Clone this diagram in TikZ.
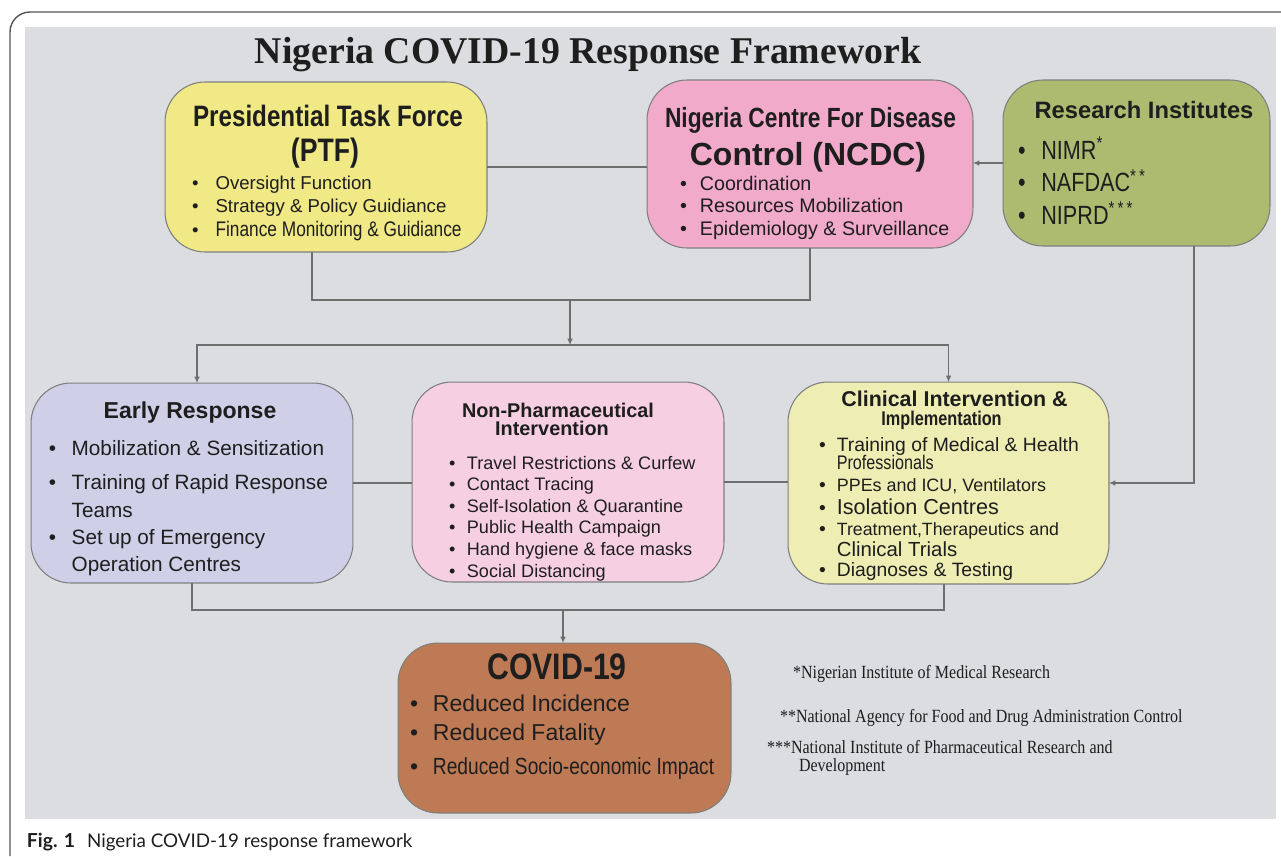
\documentclass[tikz,border=0pt]{standalone}
\usepackage{fontspec}
\setmainfont{Liberation Sans}
\newfontfamily\narrowfont[FakeStretch=0.82]{Liberation Sans}
\newfontfamily\titlefont{Liberation Serif}
\newfontfamily\timesfont[FakeStretch=0.86]{Liberation Serif}
\newfontfamily\capfont{Lato}
\usetikzlibrary{positioning,calc,arrows.meta}

\definecolor{panelgray}{HTML}{DCDDE0}
\definecolor{frameline}{HTML}{555555}
\definecolor{boxedge}{HTML}{7E7E7E}
\definecolor{linkgray}{HTML}{6E6E6E}
\definecolor{textdark}{HTML}{1E1E1E}
\definecolor{ptfyellow}{HTML}{F0E985}
\definecolor{ncdcpink}{HTML}{F2AACB}
\definecolor{resolive}{HTML}{ADBB70}
\definecolor{earlylilac}{HTML}{CFD0E8}
\definecolor{npipink}{HTML}{F6CFE2}
\definecolor{clinyellow}{HTML}{EEEEB4}
\definecolor{covidbrown}{HTML}{BE7A54}

\begin{document}
\begin{tikzpicture}[x=0.02cm, y=-0.02cm, outer sep=0pt,
    box/.style={draw=boxedge, line width=0.6pt, rounded corners=0.8cm, inner sep=0pt},
    txt/.style={inner sep=0pt, anchor=base, text=textdark},
    lst/.style={inner sep=0pt, anchor=base west, text=textdark},
    link/.style={draw=linkgray, line width=0.6pt},
    arr/.style={link, -{Latex[length=3.6pt,width=3.2pt]}}]
    \useasboundingbox (0,0) rectangle (1281,856);

    % frame and grey panel
    \draw[frameline, line width=0.8pt, rounded corners=0.4cm] (10,856) -- (10,12) -- (1281,12);
    \fill[panelgray] (25,27) rectangle (1276,819);

    \node[txt, font={\titlefont\bfseries\fontsize{21.5}{26}\selectfont}] (title) at (588,63) {Nigeria COVID-19 Response Framework};

    % top row
    \node[box, fill=ptfyellow, minimum width=6.44cm, minimum height=3.4cm] (ptf) at (326,167) {};
    \node[box, fill=ncdcpink, minimum width=6.52cm, minimum height=3.36cm] (ncdc) at (810,164) {};
    \node[box, fill=resolive, minimum width=5.34cm, minimum height=3.32cm] (res) at (1136.5,163) {};

    \node[txt, font={\narrowfont\bfseries\fontsize{16.8}{18}\selectfont}] (ptf-t1) at (328,126) {Presidential Task Force};
    \node[txt, font={\narrowfont\bfseries\fontsize{18.5}{18}\selectfont}] (ptf-t2) at (325,161) {(PTF)};
    \node[lst, font={\fontsize{10.6}{13.4}\selectfont}] (ptf-list) at (192,189) {%
        \begin{tabular}[t]{@{}l@{\hspace{9.7pt}}l@{}}
        \textbullet & Oversight Function\\
        \textbullet & Strategy \& Policy Guidiance\\
        \textbullet & {\narrowfont\fontsize{12}{13}\selectfont Finance Monitoring \& Guidiance}
        \end{tabular}};

    \node[txt, font={\narrowfont\bfseries\fontsize{15.8}{17}\selectfont}] (ncdc-t1) at (810.5,127) {Nigeria Centre For Disease};
    \node[txt, font={\bfseries\fontsize{18.2}{20}\selectfont}] (ncdc-t2) at (808,165) {Control (NCDC)};
    \node[lst, font={\fontsize{11.2}{13}\selectfont}] (ncdc-list) at (680,190) {%
        \begin{tabular}[t]{@{}l@{\hspace{7.4pt}}l@{}}
        \textbullet & Coordination\\
        \textbullet & Resources Mobilization\\
        \textbullet & Epidemiology \& Surveillance
        \end{tabular}};

    \node[txt, font={\bfseries\fontsize{13.5}{16}\selectfont}] (res-t) at (1144,118) {Research Institutes};
    \node[lst, font={\narrowfont\fontsize{15}{18.5}\selectfont}] (res-list) at (1018,159) {%
        \begin{tabular}[t]{@{}l@{\hspace{9pt}}l@{}}
        \textbullet & NIMR\textsuperscript{*}\\
        \textbullet & NAFDAC\textsuperscript{*\,*}\\
        \textbullet & NIPRD\textsuperscript{*\,*\,*}
        \end{tabular}};

    % middle row
    \node[box, fill=earlylilac, minimum width=6.44cm, minimum height=4cm] (early) at (192,483) {};
    \node[box, fill=npipink, minimum width=6.24cm, minimum height=4cm] (npi) at (568,482) {};
    \node[box, fill=clinyellow, minimum width=6.42cm, minimum height=4.04cm] (clin) at (948.5,483) {};

    \node[txt, font={\bfseries\fontsize{13.1}{15}\selectfont}] (early-t) at (190,418) {Early Response};
    \node[lst, font={\fontsize{11.8}{15.4}\selectfont}] (early-list) at (49,455) {%
        \begin{tabular}[t]{@{}l@{\hspace{8.8pt}}l@{}}
        \textbullet & Mobilization \& Sensitization\\[4.5pt]
        \textbullet & Training of Rapid Response\\
                    & Teams\\
        \textbullet & Set up of Emergency\\
                    & Operation Centres
        \end{tabular}};

    \node[txt, font={\bfseries\fontsize{11.3}{13}\selectfont}] (npi-t1) at (558,417) {Non-Pharmaceutical};
    \node[txt, font={\bfseries\fontsize{11.3}{13}\selectfont}] (npi-t2) at (552,435) {Intervention};
    \node[lst, font={\fontsize{10.3}{12.3}\selectfont}] (npi-list) at (449,469) {%
        \begin{tabular}[t]{@{}l@{\hspace{6.6pt}}l@{}}
        \textbullet & Travel Restrictions \& Curfew\\
        \textbullet & Contact Tracing\\
        \textbullet & Self-Isolation \& Quarantine\\
        \textbullet & Public Health Campaign\\
        \textbullet & Hand hygiene \& face masks\\
        \textbullet & Social Distancing
        \end{tabular}};

    \node[txt, font={\bfseries\fontsize{12.2}{14}\selectfont}] (clin-t1) at (954.5,406) {Clinical Intervention \&};
    \node[txt, font={\narrowfont\bfseries\fontsize{11.3}{12}\selectfont}] (clin-t2) at (941.5,425) {Implementation};
    \node[lst, font={\fontsize{11}{10.8}\selectfont}] (clin-list) at (819,451) {%
        \begin{tabular}[t]{@{}l@{\hspace{6.3pt}}l@{}}
        \textbullet & Training of Medical \& Health\\[-1pt]
                    & {\narrowfont\fontsize{11.2}{11}\selectfont Professionals}\\[2pt]
        \textbullet & {\fontsize{10.2}{11}\selectfont PPEs and ICU, Ventilators}\\[1pt]
        \textbullet & {\fontsize{12.3}{11}\selectfont Isolation Centres}\\[1.2pt]
        \textbullet & {\fontsize{10.1}{11}\selectfont Treatment,Therapeutics and}\\
                    & {\fontsize{11.6}{11}\selectfont Clinical Trials}\\
        \textbullet & Diagnoses \& Testing
        \end{tabular}};

    % outcome box
    \node[box, fill=covidbrown, minimum width=6.66cm, minimum height=3.4cm] (covid) at (564.5,728) {};
    \node[txt, font={\narrowfont\bfseries\fontsize{21}{20}\selectfont}] (covid-t) at (557,679) {COVID-19};
    \node[lst, font={\fontsize{13.1}{17}\selectfont}] (covid-list) at (410,711) {%
        \begin{tabular}[t]{@{}l@{\hspace{8.5pt}}l@{}}
        \textbullet & Reduced Incidence\\
        \textbullet & Reduced Fatality\\[2.3pt]
        \textbullet & {\narrowfont\fontsize{13.3}{17}\selectfont Reduced Socio-economic Impact}
        \end{tabular}};

    % footnotes
    \node[lst, font={\timesfont\fontsize{10.6}{12}\selectfont}] (note1) at (793,678) {*Nigerian Institute of Medical Research};
    \node[lst, font={\timesfont\fontsize{10.6}{12}\selectfont}] (note2) at (780,722) {**National Agency for Food and Drug Administration Control};
    \node[lst, font={\timesfont\fontsize{10.6}{12}\selectfont}] (note3) at (767,753) {***National Institute of Pharmaceutical Research and};
    \node[lst, font={\timesfont\fontsize{10.6}{12}\selectfont}] (note3b) at (799,771) {Development};

    % connectors
    \coordinate (join1) at (570,300);
    \coordinate (split) at (570,345);
    \coordinate (join2) at (563,610);
    \draw[link] (ptf.east) -- (ptf.east -| ncdc.west);
    \draw[link] ([xshift=-0.28cm]ptf.south) |- (join1) -| (ncdc.south);
    \draw[arr] (join1) -- (split);
    \draw[arr] (split) -| ([xshift=0.1cm]early.north);
    \draw[arr] (split) -| (clin.north);
    \draw[arr] (res.west) -- (res.west -| ncdc.east);
    \draw[arr] ([xshift=1.15cm]res.south) |- (clin.east);
    \draw[link] (early.east) -- (early.east -| npi.west);
    \draw[link] (npi.east) -- (npi.east -| clin.west);
    \draw[link] (early.south) |- (join2) -| ([xshift=-0.09cm]clin.south);
    \draw[arr] (join2) -- (join2 |- covid.north);

    % caption
    \node[lst, font={\capfont\bfseries\fontsize{11}{13}\selectfont}] (fig) at (27,847) {Fig. 1};
    \node[lst, font={\capfont\fontsize{10.7}{13}\selectfont}, right=0.24cm of fig.base east, anchor=base west] (caption) {Nigeria COVID-19 response framework};
\end{tikzpicture}
\end{document}
